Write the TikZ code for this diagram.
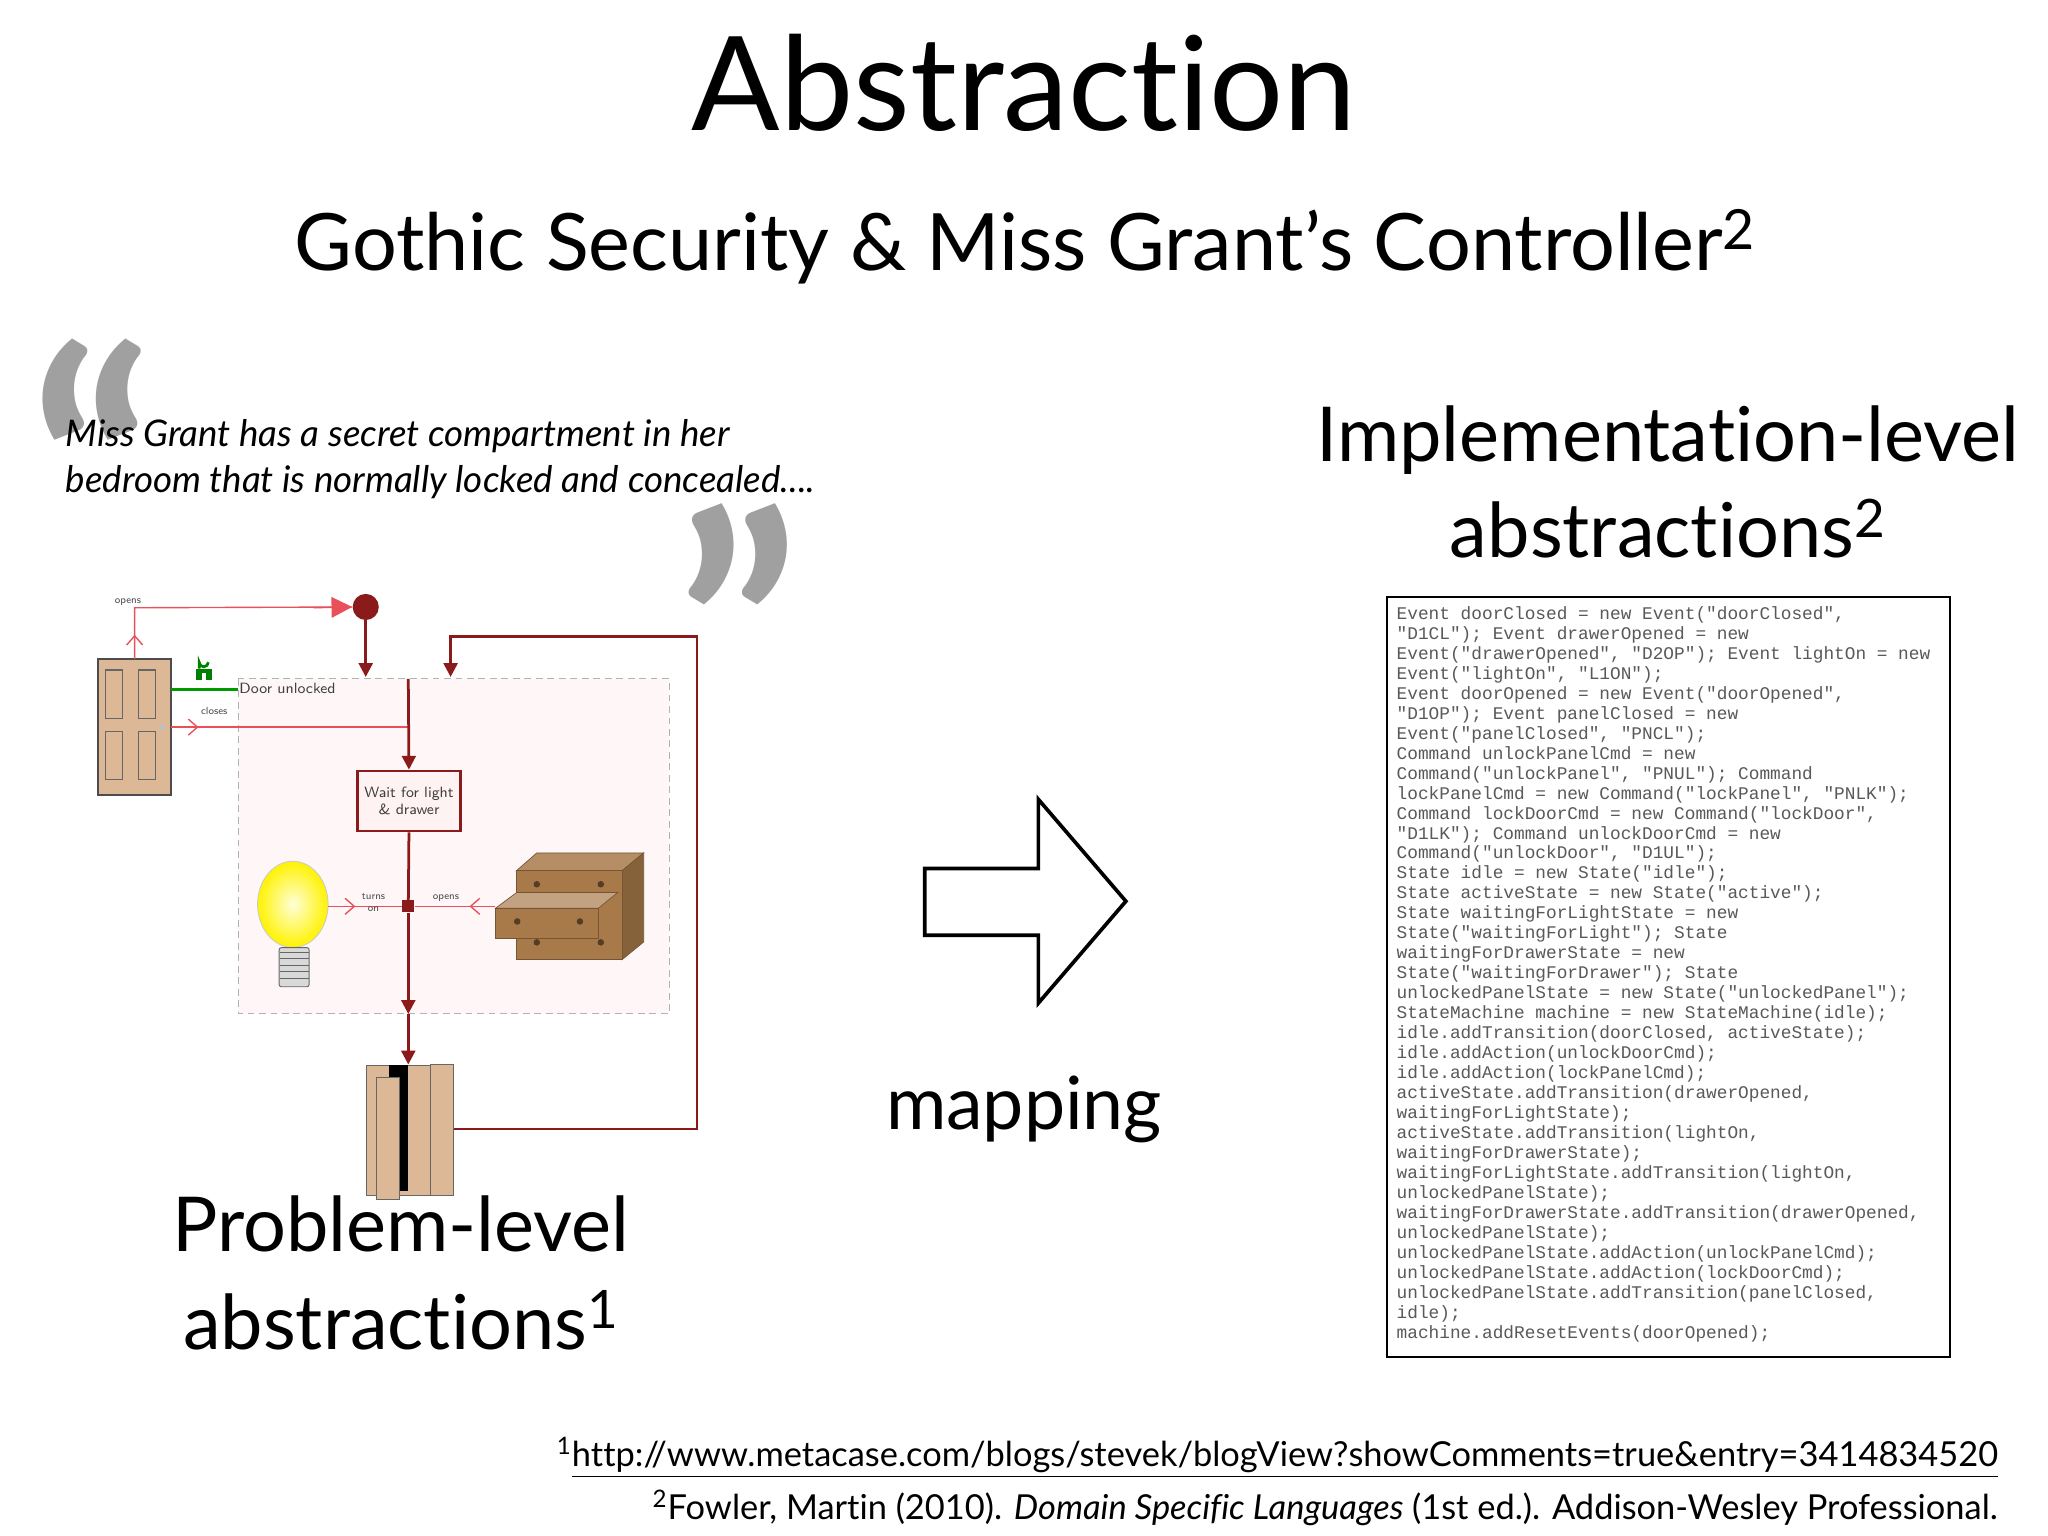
\documentclass[tikz,border=0pt]{standalone}
\usepackage{fontspec}
\setmainfont{Lato}[Ligatures=NoCommon]
\setmonofont{Liberation Mono}
\usetikzlibrary{arrows.meta}
\definecolor{dred}{HTML}{8B1A1A}
\definecolor{lred}{HTML}{E8505B}
\definecolor{wood}{HTML}{DDB897}
\definecolor{brn}{HTML}{A87A4A}
\definecolor{qgray}{HTML}{A0A0A0}
\tikzset{
  thick line/.style={draw=dred,line width=1.2pt},
  thin line/.style={draw=lred,line width=0.6pt},
  tri/.style={-{Triangle[length=6pt,width=6pt]}},
  opn/.style={-{Straight Barb[length=4pt,width=7pt]}},
  lbl/.style={font=\fontsize{4.5}{5}\selectfont\sffamily,text=black!70,inner sep=0pt},
  big/.style={font=\fontsize{33}{38}\selectfont,anchor=base,inner sep=0pt},
}
\begin{document}
\begin{tikzpicture}[x=0.02cm,y=-0.02cm]
\useasboundingbox (0,0) rectangle (1568,1176);
\fill[white] (0,0) rectangle (1568,1176);
% titles
\node[anchor=base,inner sep=0pt,font=\fontsize{57}{60}\selectfont] (title) at (784,100) {Abstraction};
\node[anchor=base,inner sep=0pt,font=\fontsize{34.5}{40}\selectfont] (sub) at (785,207) {Gothic Security \& Miss Grant’s Controller\textsuperscript{2}};
% quote
\node[anchor=base west,inner sep=0pt,font=\fontsize{140}{140}\selectfont\bfseries,text=qgray] (q1) at (22,451) {“};
\node[anchor=base west,inner sep=0pt,font=\fontsize{140}{140}\selectfont\bfseries,text=qgray] (q2) at (517,575) {”};
\node[anchor=base west,inner sep=0pt,font=\fontsize{16}{20}\selectfont\itshape] (qt1) at (50,342) {Miss Grant has a secret compartment in her};
\node[anchor=base west,inner sep=0pt,font=\fontsize{16}{20}\selectfont\itshape] (qt2) at (50,377) {bedroom that is normally locked and concealed....};
% big labels
\node[big] (impl1) at (1277,353) {Implementation-level};
\node[big] (impl2) at (1277,427) {abstractions\textsuperscript{2}};
\node[big,font=\fontsize{32}{38}\selectfont] (map) at (784,865) {mapping};
\node[big] (prob1) at (307,958) {Problem-level};
\node[big] (prob2) at (307,1033) {abstractions\textsuperscript{1}};
% footnotes
\node[anchor=base east,inner sep=0pt,font=\fontsize{15}{20}\selectfont] (fn1) at (1530,1123) {\textsuperscript{1}\underline{http://www.metacase.com/blogs/stevek/blogView?showComments=true\&entry=3414834520}};
\node[anchor=base east,inner sep=0pt,font=\fontsize{15}{20}\selectfont] (fn2) at (1530,1163) {\textsuperscript{2}Fowler, Martin (2010). \textit{Domain Specific Languages} (1st ed.). Addison-Wesley Professional.};
% big arrow
\draw[line width=1.6pt,line join=miter] (708,665) -- (795,665) -- (795,612) -- (862,690) -- (795,768) -- (795,716) -- (708,716) -- cycle;
% code box
\node[draw=black,line width=1pt,anchor=north west,minimum width=431*0.02cm,minimum height=582*0.02cm,inner sep=0pt] (codebox) at (1061,456) {};
\node[anchor=north west,align=left,inner sep=0pt,text=black!65,font=\ttfamily\fontsize{7.75}{8.7}\selectfont] (code) at (1069,464) {%
Event doorClosed = new Event("doorClosed",\\
"D1CL"); Event drawerOpened = new\\
Event("drawerOpened", "D2OP"); Event lightOn = new\\
Event("lightOn", "L1ON");\\
Event doorOpened = new Event("doorOpened",\\
"D1OP"); Event panelClosed = new\\
Event("panelClosed", "PNCL");\\
Command unlockPanelCmd = new\\
Command("unlockPanel", "PNUL"); Command\\
lockPanelCmd = new Command("lockPanel", "PNLK");\\
Command lockDoorCmd = new Command("lockDoor",\\
"D1LK"); Command unlockDoorCmd = new\\
Command("unlockDoor", "D1UL");\\
State idle = new State("idle");\\
State activeState = new State("active");\\
State waitingForLightState = new\\
State("waitingForLight"); State\\
waitingForDrawerState = new\\
State("waitingForDrawer"); State\\
unlockedPanelState = new State("unlockedPanel");\\
StateMachine machine = new StateMachine(idle);\\
idle.addTransition(doorClosed, activeState);\\
idle.addAction(unlockDoorCmd);\\
idle.addAction(lockPanelCmd);\\
activeState.addTransition(drawerOpened,\\
waitingForLightState);\\
activeState.addTransition(lightOn,\\
waitingForDrawerState);\\
waitingForLightState.addTransition(lightOn,\\
unlockedPanelState);\\
waitingForDrawerState.addTransition(drawerOpened,\\
unlockedPanelState);\\
unlockedPanelState.addAction(unlockPanelCmd);\\
unlockedPanelState.addAction(lockDoorCmd);\\
unlockedPanelState.addTransition(panelClosed,\\
idle);\\
machine.addResetEvents(doorOpened);};
% ===== state diagram =====
\draw[densely dashed,draw=black!30,fill=red!3] (182.5,519.8) rectangle (512.5,776.3);
\node[fill=dred,circle,inner sep=0pt,minimum size=20*0.02cm] (start) at (280,464.7) {};
% door
\draw[fill=wood,draw=black!70,line width=0.8pt] (75,504.7) rectangle (131,608.5);
\foreach \x in {81,106}{\foreach \y in {513,560}{\draw[draw=black!60,line width=0.5pt] (\x,\y) rectangle ++(13,37);}}
\fill[black!25] (124,556.7) circle (2.2);
% lock
\draw[green!50!black,line width=1.2pt] (152.5,512) -- (152.5,507) arc (180:0:3.5);
\fill[green!50!black] (150,512) rectangle (162,521);
\fill[white] (154.5,515) rectangle (157.5,521);
\coordinate (doorR) at (131,528);
\coordinate (doorC) at (131,556.7);
\coordinate (doorT) at (103.1,504.7);
\draw[green!60!black,line width=1pt] (doorR) -- (182.5,528);
\node[anchor=west,inner sep=0pt,font=\fontsize{6.5}{7}\selectfont\sffamily,text=black!75] (du) at (183,527) {Door unlocked};
% thin transitions
\coordinate (openc) at (103.1,465.3);
\draw[thin line] (doorT) -- (openc) -- (start);
\draw[thin line,opn] (doorT) -- (103.1,486);
\draw[-{Triangle[length=9pt,width=9pt]},draw=lred,fill=red,line width=0.6pt] (240,465.3) -- (start.west);
\node[lbl,anchor=south] (openslbl) at (98,464) {opens};
\coordinate (closeend) at (312.6,556.7);
\draw[thin line] (doorC) -- (closeend);
\draw[thin line,opn] (doorC) -- (152,556.7);
\node[lbl] (closeslbl) at (164,544) {closes};
% main vertical
\coordinate (topin) at (312.6,519.8);
\node[draw=dred,line width=1.2pt,fill=red!5,minimum width=79*0.02cm,minimum height=46*0.02cm,inner sep=0pt,align=center,font=\fontsize{6.5}{7.5}\selectfont\sffamily,text=black!75] (wait) at (313.1,613.3) {Wait for light\\\& drawer};
\draw[thick line,tri] (topin) -- (wait.north);
\draw[thick line,tri] (start) -- (280,518.3);
\node[fill=dred,minimum size=9*0.02cm,inner sep=0pt] (junc) at (312.6,693.9) {};
\coordinate (boxbot) at (312.6,776.3);
\draw[thick line] (wait.south) -- (junc);
\draw[thick line,tri] (junc) -- (boxbot);
% bulb
\shade[inner color=yellow!15,outer color=yellow!90!orange,draw=black!20] (224.2,692.4) ellipse (27 and 33);
\node[inner sep=0pt,minimum width=23*0.02cm,minimum height=30*0.02cm,draw=black!60,fill=black!15,rounded corners=1pt] (bulb) at (225.2,740.5) {};
\foreach \y in {729,734,739,744,749}{\draw[black!60,line width=0.4pt] (214,\y) -- (236.5,\y);}
\coordinate (bulbR) at (251.5,693.9);
\draw[thin line] (bulbR) -- (junc);
\draw[thin line,opn] (bulbR) -- (272,693.9);
\node[lbl,align=center] (turns) at (286,691) {turns\\on};
% drawer
\filldraw[fill=brn!85,draw=brn!70!black,line width=0.3pt] (395.3,666.7) -- (411,653) -- (492.8,653) -- (476.2,666.7) -- cycle;
\filldraw[fill=brn!80!black,draw=brn!70!black,line width=0.3pt] (476.2,666.7) -- (492.8,653) -- (492.8,721.2) -- (476.2,734.8) -- cycle;
\filldraw[fill=brn,draw=brn!70!black,line width=0.3pt] (395.3,666.7) rectangle (476.2,734.8);
\filldraw[fill=brn!70!white,draw=brn!70!black,line width=0.3pt] (379.3,695.4) -- (395.6,683.3) -- (473,683.3) -- (458,695.4) -- cycle;
\filldraw[fill=brn,draw=brn!70!black,line width=0.3pt] (379.3,695.4) rectangle (458,718.1);
\foreach \p in {(411,677),(460,677),(396,705.5),(444,705.5),(411,721.5),(460,721.5)}{\fill[brn!50!black] \p circle (2.5);}
\coordinate (drawerL) at (379.3,693.9);
\draw[thin line] (drawerL) -- (junc);
\draw[thin line,opn] (drawerL) -- (359.5,693.9);
\node[lbl] (openslbl2) at (341.4,687.3) {opens};
% panel
\node[draw=black!60,fill=wood,minimum width=67*0.02cm,minimum height=100*0.02cm,inner sep=0pt,anchor=north west] (panel) at (280,815) {};
\fill[black] (297.5,815) rectangle (312.6,912);
\draw[black!60,fill=wood] (329.8,815) rectangle (346.9,915);
\draw[black!60,fill=wood] (288.6,825) rectangle (305.8,918);
\draw[thick line,tri] (boxbot) -- (312.6,815);
% return
\coordinate (r1) at (533.7,864.4);
\coordinate (r2) at (533.7,487.4);
\coordinate (r3) at (345,487.4);
\draw[thick line,tri] (panel.east |- r1) -- (r1) -- (r2) -- (r3) -- (345,518.3);
\end{tikzpicture}
\end{document}
